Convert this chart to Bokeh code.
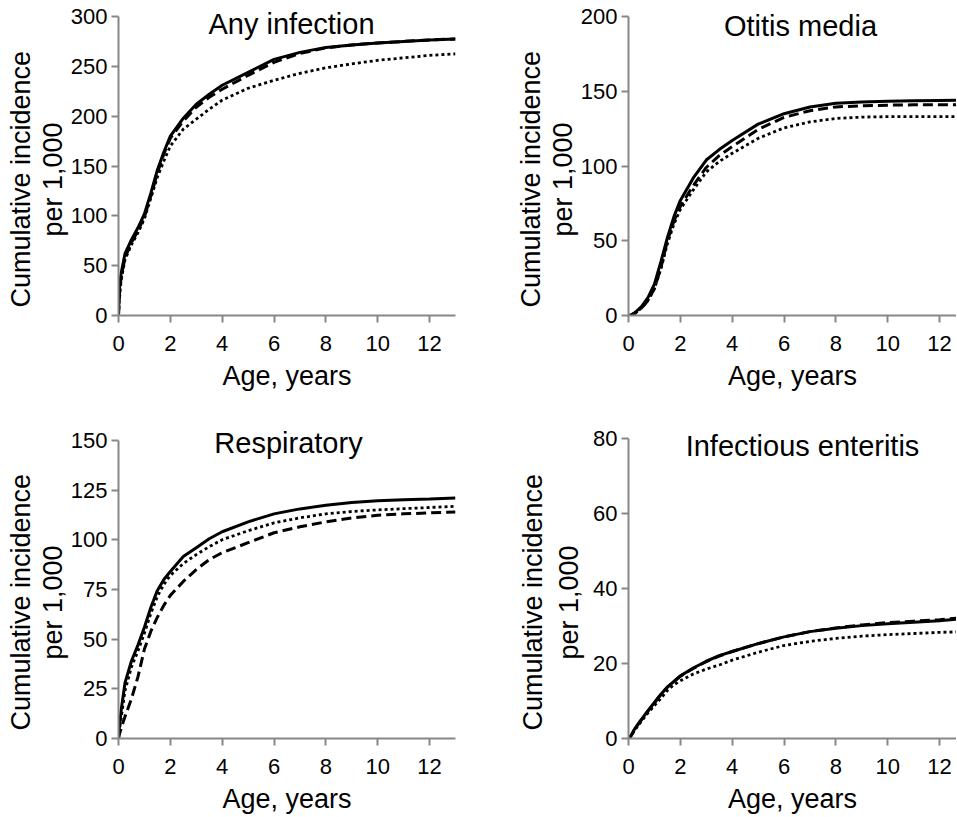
from bokeh.plotting import figure
from bokeh.layouts import gridplot
from bokeh.models import Range1d, FixedTicker, Label, Title
from bokeh.embed import file_html
from bokeh.resources import INLINE

# ---------------- data ----------------
AGE = [0, 0.03, 0.1, 0.25, 0.5, 0.75, 1, 1.25, 1.5, 1.75, 2, 2.5, 3, 3.5, 4,
       5, 6, 7, 8, 9, 10, 11, 12, 13]

any_solid = [0, 25, 42, 62, 76, 88, 102, 123, 146, 164, 180, 198, 212, 222, 231,
             244, 257, 264, 269, 271.5, 273.5, 275, 276.5, 277.5]
any_dashed = [0, 20, 38, 58, 73, 85, 99, 120, 143, 162, 178, 195, 209, 219, 227,
              241, 254, 263, 268.5, 271.5, 273.5, 275, 276.5, 277.5]
any_dotted = [0, 15, 35, 56, 71, 83, 97, 118, 139, 155, 170, 187, 197, 207, 216,
              228, 236, 243, 248.5, 252.5, 256, 258.5, 261, 262.5]

oti_solid = [0, 0, 0.3, 2, 6, 12, 21, 36, 52, 66, 77, 92, 104, 111, 117,
             128, 135, 139.5, 142, 142.8, 143.3, 143.6, 143.8, 144]
oti_dashed = [0, 0, 0.2, 1.5, 5, 10, 18, 32, 50, 63, 73, 87, 99, 107, 113,
              124.5, 132.5, 137, 139.5, 140.3, 140.7, 140.9, 141, 141]
oti_dotted = [0, 0, 0.2, 1.5, 5, 10, 18, 31, 48, 61, 71, 84, 96, 103, 108.5,
              118.5, 125.5, 129.5, 131.8, 132.7, 133, 133, 133, 133]

resp_solid = [0, 5, 14, 28, 39, 47, 56, 66, 74.5, 80, 84, 91.5, 96, 100.5, 104,
              109, 113, 115.5, 117.3, 118.7, 119.6, 120.1, 120.5, 121]
resp_dashed = [0, 2, 5, 11, 20, 31, 45, 54, 61, 67, 72, 79, 85, 90, 93.5,
               98.5, 103.5, 106.5, 109, 111, 112.3, 113, 113.5, 114]
resp_dotted = [0, 4, 10, 24, 36, 44, 53, 63, 71.5, 77.5, 82, 88, 92.5, 96.5, 100,
               104.5, 108.5, 111, 113, 114.2, 115, 115.6, 116.2, 116.8]

ent_solid = [0, 0.2, 0.8, 2.7, 5.1, 7.4, 9.6, 11.8, 13.7, 15.2, 16.7, 18.8, 20.6, 22.1, 23.2,
             25.3, 27.1, 28.5, 29.4, 30.1, 30.6, 31.0, 31.4, 32.0]
ent_dashed = [0, 0.2, 0.7, 2.6, 5.0, 7.3, 9.5, 11.7, 13.7, 15.2, 16.6, 18.7, 20.5, 22.0, 23.2,
              25.3, 27.1, 28.5, 29.5, 30.3, 30.9, 31.3, 31.7, 32.3]
ent_dotted = [0, 0.2, 0.8, 2.3, 4.6, 6.8, 8.8, 10.7, 12.8, 14.3, 15.4, 17.2, 18.5, 19.6, 20.9,
              23.0, 24.8, 25.9, 26.7, 27.3, 27.7, 28.0, 28.3, 28.5]

X_TICKS = [0, 2, 4, 6, 8, 10, 12]
Y_TICKS_ANY = [0, 50, 100, 150, 200, 250, 300]
Y_TICKS_OTI = [0, 50, 100, 150, 200]
Y_TICKS_RESP = [0, 25, 50, 75, 100, 125, 150]
Y_TICKS_ENT = [0, 20, 40, 60, 80]

TITLES = ["Any infection", "Otitis media", "Respiratory", "Infectious enteritis"]
X_LABEL = "Age, years"
Y_LABEL_1 = "Cumulative incidence"
Y_LABEL_2 = "per 1,000"

# ---------------- styling ----------------
FONT = "Liberation Sans"
GRAY = "#878787"
X_MAX = 13.0
FW_LEFT = 337           # frame width of the left column
XPPU = FW_LEFT / X_MAX  # pixels per year


def panel(title, solid, dashed, dotted, yticks, width, height, left, right, bottom,
          axis_px, title_dx, title_py, pad2, pad1, valign2):
    ymax = yticks[-1]
    fw = width - left - right
    fh = height - bottom
    yppu = axis_px / ymax
    xend = fw / XPPU
    p = figure(width=width, height=height, x_range=Range1d(0, xend),
               y_range=Range1d(0, fh / yppu),
               output_backend="svg", toolbar_location=None,
               min_border_left=left, min_border_right=right,
               min_border_top=0, min_border_bottom=bottom)
    p.outline_line_color = None
    p.grid.visible = False
    p.background_fill_color = "white"
    p.border_fill_color = "white"
    for ax in p.axis:
        ax.axis_line_color = GRAY
        ax.axis_line_width = 2
        ax.major_tick_line_color = GRAY
        ax.major_tick_line_width = 2
        ax.major_tick_out = 7
        ax.major_tick_in = 0
        ax.minor_tick_line_color = None
        ax.major_label_text_font = FONT
        ax.major_label_text_font_size = "22px"
        ax.major_label_text_color = "black"
        ax.axis_label_text_font = FONT
        ax.axis_label_text_font_size = "27px"
        ax.axis_label_text_font_style = "normal"
        ax.axis_label_text_color = "black"
    p.xaxis.ticker = FixedTicker(ticks=X_TICKS)
    p.yaxis.ticker = FixedTicker(ticks=yticks)
    p.yaxis.bounds = (0, ymax)
    p.xaxis.major_label_standoff = 13
    p.yaxis.major_label_standoff = 4
    p.xaxis.axis_label = X_LABEL
    p.xaxis.axis_label_standoff = 7

    # two-line y label, stacked outward from the y axis
    p.add_layout(Title(text=Y_LABEL_2, align="left", offset=79, standoff=pad2,
                       vertical_align=valign2,
                       text_font=FONT, text_font_size="27px", text_font_style="normal",
                       text_color="black"), "left")
    p.add_layout(Title(text=Y_LABEL_1, align="left", offset=8, standoff=pad1,
                       text_font=FONT, text_font_size="27px", text_font_style="normal",
                       text_color="black"), "left")

    p.line(AGE, dotted, line_color="black", line_width=2.8, line_dash="3 3")
    p.line(AGE, solid, line_color="black", line_width=3)
    p.line(AGE, dashed, line_color="black", line_width=3, line_dash="10 5")

    p.add_layout(Label(x=title_dx / XPPU, y=title_py / yppu, text=title,
                       text_align="center", text_baseline="alphabetic",
                       text_font=FONT, text_font_size="29px", text_color="black"))
    return p


p1 = panel(TITLES[0], any_solid, any_dashed, any_dotted, Y_TICKS_ANY,
           478, 410, 118, 23, 95, 299, 173, 292, 0, 0, "bottom")
p2 = panel(TITLES[1], oti_solid, oti_dashed, oti_dotted, Y_TICKS_OTI,
           478, 410, 150, 0, 95, 299, 172, 290, 0, 0, "bottom")
p3 = panel(TITLES[2], resp_solid, resp_dashed, resp_dotted, Y_TICKS_RESP,
           478, 406, 118, 23, 76, 300, 170, 297, 0, 0, "bottom")
p4 = panel(TITLES[3], ent_solid, ent_dashed, ent_dotted, Y_TICKS_ENT,
           478, 406, 150, 0, 78, 300, 174, 293, 10, 2, "top")

grid = gridplot([[p1, p2], [p3, p4]], toolbar_location=None)

with open("out.html", "w") as f:
    f.write(file_html(grid, INLINE))
